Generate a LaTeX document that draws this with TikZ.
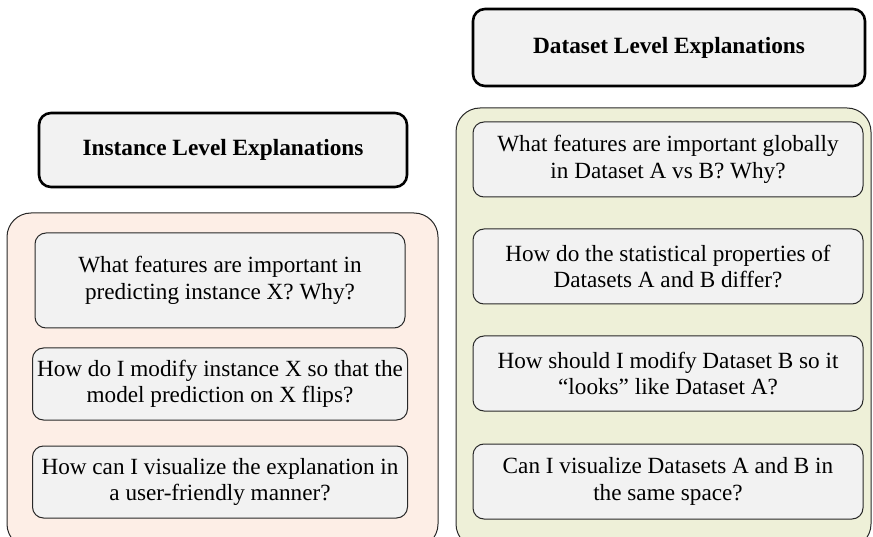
\documentclass[tikz,border=0pt]{standalone}
\usepackage{fontspec}
\setmainfont{Liberation Serif}
\usepackage{xcolor}
\usepackage{tikz}
\usetikzlibrary{positioning}
\definecolor{peachBg}{RGB}{253,238,230}
\definecolor{oliveBg}{RGB}{238,240,216}
\definecolor{qFill}{RGB}{242,242,242}
\definecolor{qLine}{RGB}{40,40,40}

\begin{document}
\begin{tikzpicture}[x=1pt,y=-1pt,
  title/.style={draw=black,line width=2.6pt,fill=qFill,rounded corners=12pt,inner sep=0pt,font=\fontsize{23.3}{26}\selectfont\bfseries},
  panel/.style={draw=qLine,line width=1pt,rounded corners=24pt,inner sep=0pt},
  qbox/.style={draw=qLine,line width=1pt,fill=qFill,rounded corners=11pt,inner sep=0pt,align=center,font=\fontsize{23.2}{26.5}\selectfont}]
\useasboundingbox (0,0) rectangle (873,537);
% instance level
\node[title,minimum width=368pt,minimum height=74pt] (insttitle) at (223,150) {Instance Level Explanations};
\node[panel,fill=peachBg,minimum width=431pt,minimum height=335pt] (instpanel) at (222.5,380.5) {};
\node[qbox,minimum width=370pt,minimum height=95pt] (inst1) at (220,280.5) {What features are important in\\predicting instance X? Why?};
\node[qbox,minimum width=375pt,minimum height=72pt,below=19pt of inst1] (inst2) {How do I modify instance X so that the\\model prediction on X flips?};
\node[qbox,minimum width=375pt,minimum height=72pt,below=25pt of inst2] (inst3) {How can I visualize the explanation in\\a user-friendly manner?};
% dataset level
\node[title,minimum width=392pt,minimum height=77pt] (datatitle) at (669,47.5) {Dataset Level Explanations};
\node[panel,fill=oliveBg,minimum width=415pt,minimum height=440pt] (datapanel) at (663.5,328) {};
\node[qbox,minimum width=390pt,minimum height=75pt] (data1) at (668,159.5) {What features are important globally\\in Dataset A vs B? Why?};
\node[qbox,minimum width=390pt,minimum height=75pt,below=31pt of data1] (data2) {How do the statistical properties of\\Datasets A and B differ?};
\node[qbox,minimum width=390pt,minimum height=75pt,below=31pt of data2] (data3) {How should I modify Dataset B so it\\``looks'' like Dataset A?};
\node[qbox,minimum width=390pt,minimum height=75pt,below=32pt of data3] (data4) {Can I visualize Datasets A and B in\\the same space?};
\end{tikzpicture}
\end{document}
